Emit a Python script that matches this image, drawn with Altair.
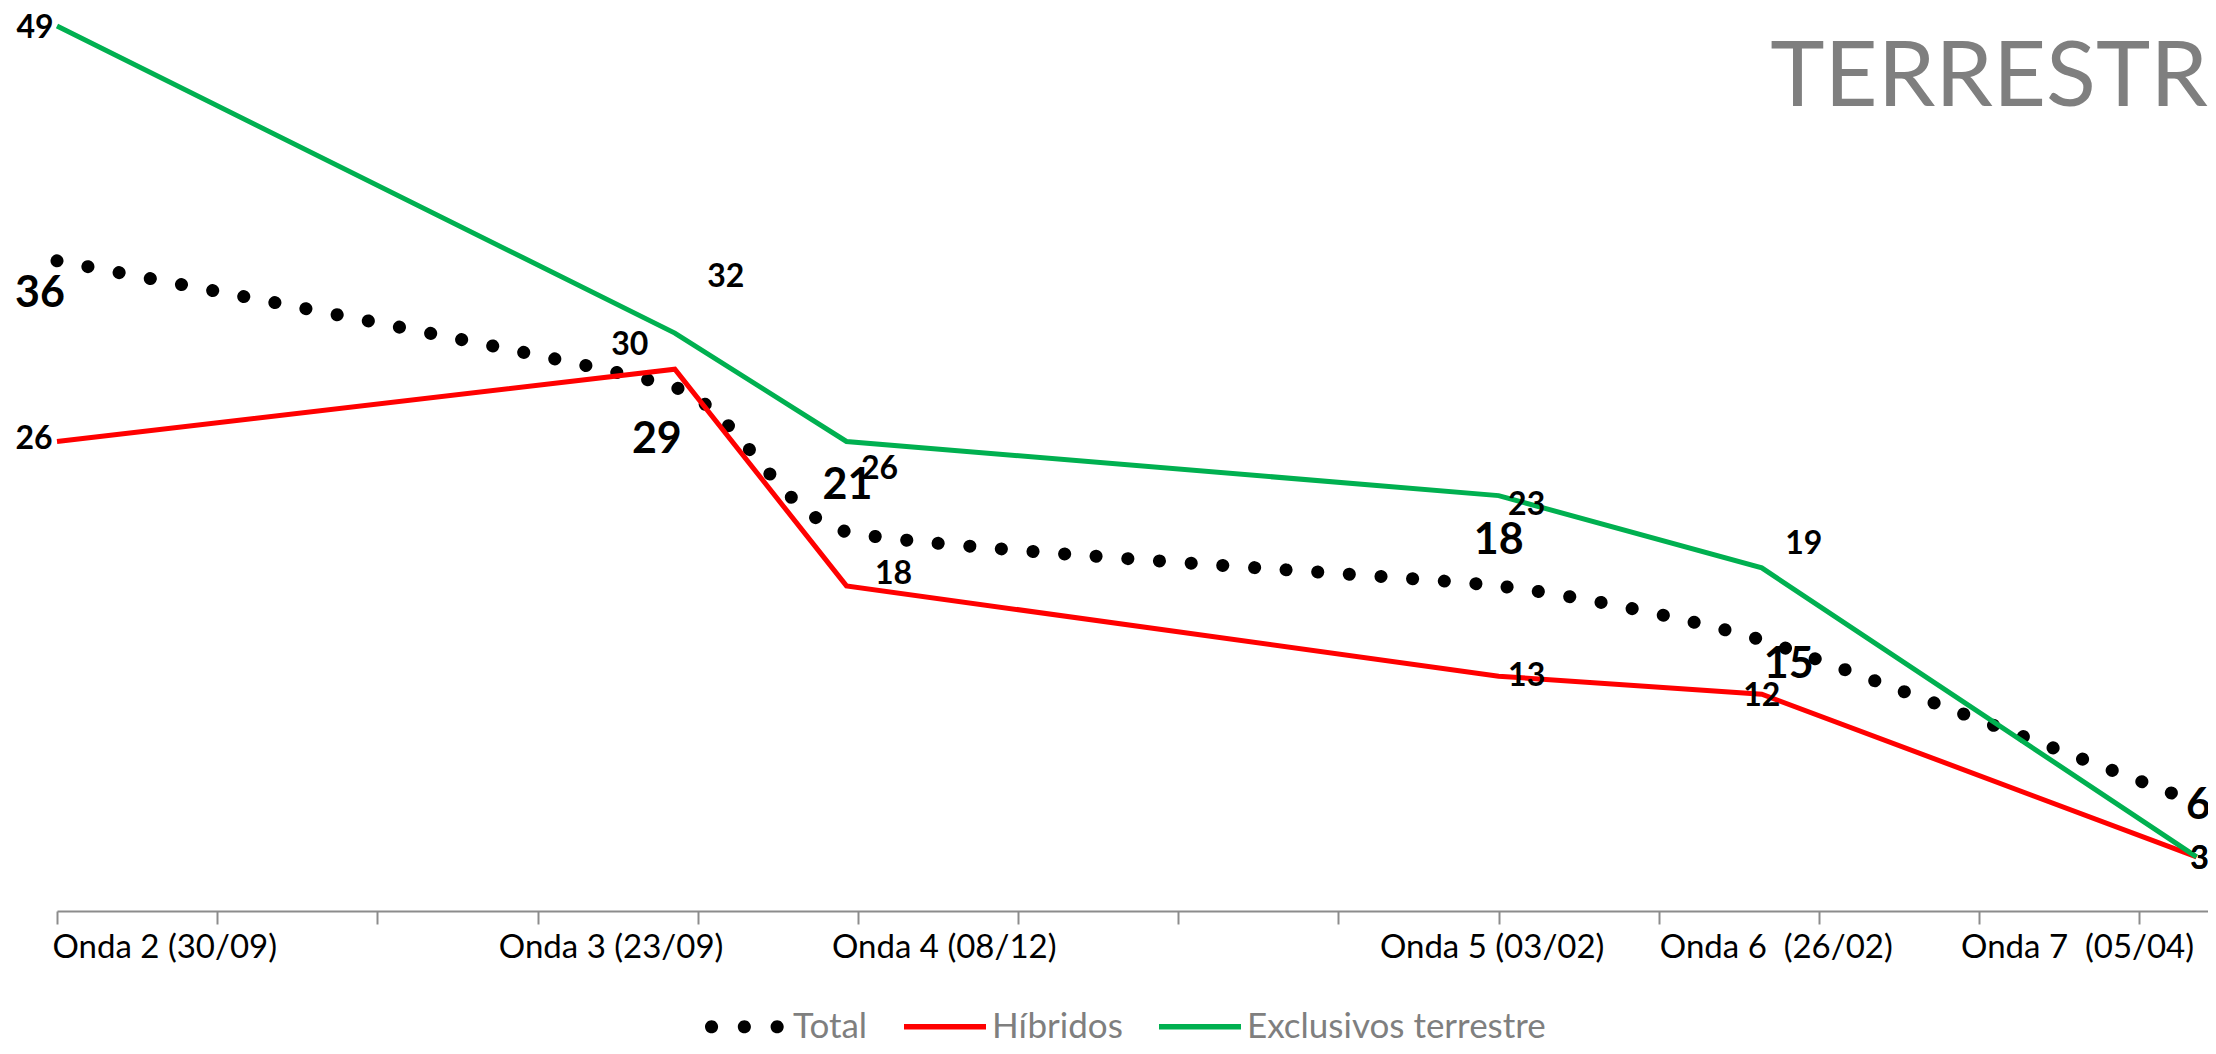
import altair as alt
import pandas as pd

# ---------------- data ----------------
waves = ["Onda 2 (30/09)", "Onda 3 (23/09)", "Onda 4 (08/12)",
         "Onda 5 (03/02)", "Onda 6 \u00a0(26/02)", "Onda 7 \u00a0(05/04)"]
# positions on the date axis
dates = ["2020-09-30", "2020-11-23", "2020-12-08", "2021-02-03", "2021-02-26", "2021-04-05"]
total = [36, 29, 21, 18, 15, 6]
hibridos = [26, 30, 18, 13, 12, 3]
exclusivos = [49, 32, 26, 23, 19, 3]
series_names = ["Total", "Híbridos", "Exclusivos terrestre"]

days = [int(d) for d in (pd.to_datetime(dates) - pd.to_datetime(dates[0])).days]

rows = []
for name, vals in zip(series_names, [total, hibridos, exclusivos]):
    for w, d, v in zip(waves, days, vals):
        rows.append({"wave": w, "day": d, "series": name, "value": v})
df = pd.DataFrame(rows)

# ---------------- layout / style ----------------
W, H = 2151, 903
X_MAX = 188.0
tick_days = list(range(0, 183, 14))
FONT = "Lato"

xscale = alt.Scale(domain=[0, X_MAX], nice=False, zero=False)
yscale = alt.Scale(domain=[0, 50], nice=False, zero=True)

tick_axis = alt.Axis(values=tick_days, labels=False, ticks=True, tickSize=13,
                     tickColor="#8c8c8c", tickWidth=2, domainColor="#8c8c8c",
                     domainWidth=2, grid=False, title=None, orient="bottom")

days_js = "[" + ",".join(str(d) for d in days) + "]"
labels_js = "[" + ",".join("'" + w + "'" for w in waves) + "]"
align_js = "['left','right','left','center','center','right']"
offset_js = "[-5,48,-15,-7,14,-3]"
label_axis = alt.Axis(
    values=days, ticks=False, domain=False, grid=False, title=None, orient="bottom",
    labelExpr=f"{labels_js}[indexof({days_js}, datum.value)]",
    labelAlign={"expr": f"{align_js}[indexof({days_js}, datum.value)]"},
    labelOffset={"expr": f"{offset_js}[indexof({days_js}, datum.value)]"},
    labelFontSize=33, labelFont=FONT, labelColor="#000000", labelPadding=20,
    labelFlush=False, labelOverlap=False, labelBaseline="top", labelLimit=0)

base = alt.Chart(df)

total_line = base.transform_filter(alt.datum.series == "Total").mark_line(
    color="#000000", strokeWidth=13, strokeCap="round", strokeDash=[0.1, 31.6],
    interpolate="cardinal", tension=0.5
).encode(x=alt.X("day:Q", scale=xscale, axis=tick_axis),
         y=alt.Y("value:Q", scale=yscale, axis=None))

hib_line = base.transform_filter(alt.datum.series == "Híbridos").mark_line(
    color="#FF0000", strokeWidth=5
).encode(x=alt.X("day:Q", scale=xscale, axis=None),
         y=alt.Y("value:Q", scale=yscale, axis=None))

exc_line = base.transform_filter(alt.datum.series == "Exclusivos terrestre").mark_line(
    color="#00B050", strokeWidth=5
).encode(x=alt.X("day:Q", scale=xscale, axis=None),
         y=alt.Y("value:Q", scale=yscale, axis=None))

# data-label offsets (pixels), per series and wave index
offsets = {
    "Total": [(-17, 33), (-18, 53), (1, -46), (0, -45), (27, 25), (2, 3)],
    "Híbridos": [(-23, -2), (-45, -24), (47, -12), (28, 0), (0, 2), (3, 2)],
    "Exclusivos terrestre": [(-22, 2), (51, -56), (33, 28), (28, 9), (42, -24), (3, 2)],
}
label_layers = []
for s in ["Exclusivos terrestre", "Híbridos", "Total"]:
    fs = 43 if s == "Total" else 32
    for i, d in enumerate(days):
        dx, dy = offsets[s][i]
        label_layers.append(
            base.transform_filter((alt.datum.series == s) & (alt.datum.day == d))
            .mark_text(dx=dx, dy=dy, fontSize=fs, fontWeight="bold", font=FONT,
                       color="#000000", align="center", baseline="middle")
            .encode(x=alt.X("day:Q", scale=xscale, axis=None),
                    y=alt.Y("value:Q", scale=yscale, axis=None),
                    text=alt.Text("value:Q"))
        )

# legend symbols: drawn from -1 to 3 (in symbol units) so the row stays low
def circ(cx, r):
    return f"M{cx - r},0A{r},{r} 0 1,0 {cx + r},0A{r},{r} 0 1,0 {cx - r},0Z"

dots_path = circ(-0.68, 0.32) + circ(0.92, 0.32) + circ(2.52, 0.32)
bar_path = "M-1,-0.13H3V0.13H-1Z"

legend = alt.Legend(title=None, orient="none", legendX=648, legendY=998,
                    direction="horizontal", labelFontSize=35, labelFont=FONT,
                    labelColor="#7f7f7f", symbolSize=1681, symbolStrokeWidth=0,
                    labelOffset=47, columnPadding=36, symbolOpacity=1, labelLimit=600)

legend_layer = base.transform_filter("false").mark_point(filled=True, opacity=1).encode(
    x=alt.X("day:Q", scale=xscale, axis=label_axis),
    y=alt.Y("value:Q", scale=yscale, axis=None),
    color=alt.Color("series:N", scale=alt.Scale(domain=series_names,
                    range=["#000000", "#FF0000", "#00B050"]), legend=legend),
    shape=alt.Shape("series:N", scale=alt.Scale(domain=series_names,
                    range=[dots_path, bar_path, bar_path]), legend=legend),
)

title_layer = alt.Chart(pd.DataFrame({"t": ["TERRESTR"]})).mark_text(
    align="right", baseline="alphabetic", fontSize=92, font=FONT, color="#7f7f7f"
).encode(x=alt.value(W), y=alt.value(98), text="t:N")

chart = alt.layer(
    total_line, hib_line, exc_line, *label_layers, legend_layer, title_layer
).resolve_axis(x="independent").properties(
    width=W, height=H,
    autosize=alt.AutoSizeParams(type="none"),
    padding={"left": 49, "top": 0, "right": 0, "bottom": 135},
).configure_view(stroke=None)

chart.save("out.html", embed_options={"renderer": "svg", "actions": False})
